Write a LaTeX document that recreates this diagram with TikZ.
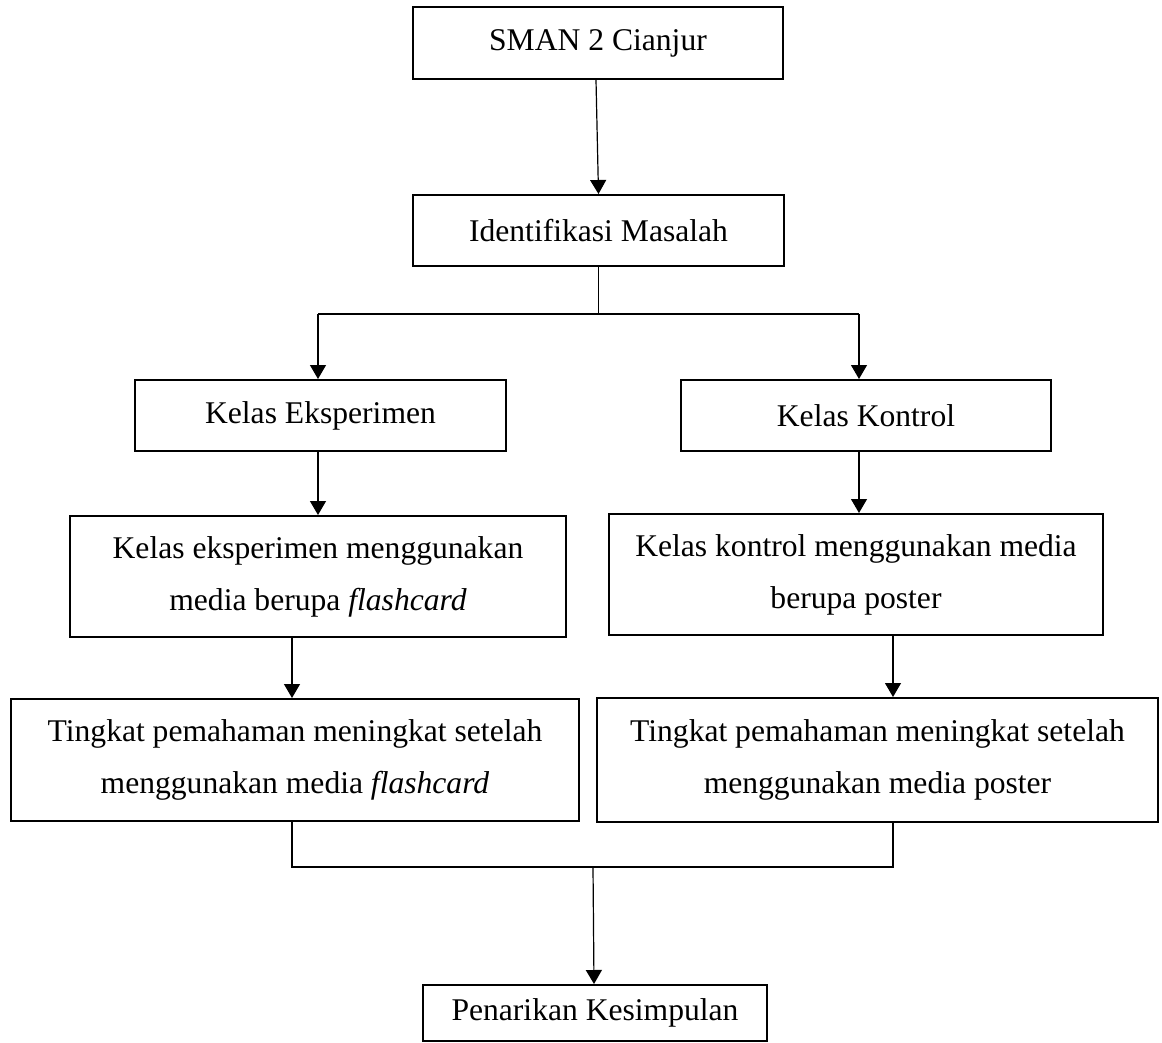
\documentclass[tikz,border=0pt]{standalone}
\usepackage{fontspec}
\setmainfont{Liberation Serif}
\usetikzlibrary{arrows.meta,calc}
\begin{document}
\begin{tikzpicture}[x=0.5pt,y=-0.5pt,
  box/.style={draw, line width=1pt, inner sep=0pt, align=center, anchor=center,
    font=\fontsize{15.8}{26}\selectfont},
  conn/.style={line width=0.6pt},
  arr/.style={conn, -{Triangle[length=7pt,width=8pt]}}]
\useasboundingbox (0,0) rectangle (1162,1043);
\fill[white] (0,0) rectangle (1162,1043);
% boxes (minimum sizes in pt = px/2)
\node[box, minimum width=185pt, minimum height=36pt] (sman) at (598,43) {SMAN 2 Cianjur};
\node[box, minimum width=185.5pt, minimum height=35.5pt] (ident) at (598.5,230.5) {Identifikasi Masalah};
\node[box, minimum width=185.5pt, minimum height=35.5pt] (eksp) at (320.5,415.5) {Kelas Eksperimen};
\node[box, minimum width=185pt, minimum height=35.5pt] (kont) at (866,415.5) {Kelas Kontrol};
\node[box, minimum width=248pt, minimum height=60.5pt] (eksp2) at (318,576.5) {Kelas eksperimen menggunakan\\media berupa \textit{flashcard}};
\node[box, minimum width=247pt, minimum height=60.5pt] (kont2) at (856,574.5) {Kelas kontrol menggunakan media\\berupa poster};
\node[box, minimum width=284pt, minimum height=61pt] (ting1) at (295,760) {Tingkat pemahaman meningkat setelah\\menggunakan media \textit{flashcard}};
\node[box, minimum width=280.5pt, minimum height=62pt] (ting2) at (877.5,760) {Tingkat pemahaman meningkat setelah\\menggunakan media poster};
\node[box, minimum width=172pt, minimum height=28pt] (pen) at (595,1013) {Penarikan Kesimpulan};
% junction coordinates
\coordinate (hl) at (318,314);
\coordinate (hr) at (859,314);
\coordinate (ml) at (292,867);
\coordinate (mr) at (893,867);
\coordinate (mm) at (593,867);
% connectors
\draw[arr] ($(sman.south)+(-2,0)$) -- (ident.north);
\draw[conn] (ident.south) -- (ident.south |- hl);
\draw[conn] (hl) -- (hr);
\draw[arr] (hl) -- (hl |- eksp.north);
\draw[arr] (hr) -- (hr |- kont.north);
\draw[arr] (eksp.south -| hl) -- (eksp2.north -| hl);
\draw[arr] (kont.south -| hr) -- (kont2.north -| hr);
\draw[arr] (eksp2.south -| ml) -- (ting1.north -| ml);
\draw[arr] (kont2.south -| mr) -- (ting2.north -| mr);
\draw[conn] (ting1.south -| ml) -- (ml) -- (mr) -- (ting2.south -| mr);
\draw[arr] (mm) -- ($(mm |- pen.north)+(1,0)$);
\end{tikzpicture}
\end{document}
